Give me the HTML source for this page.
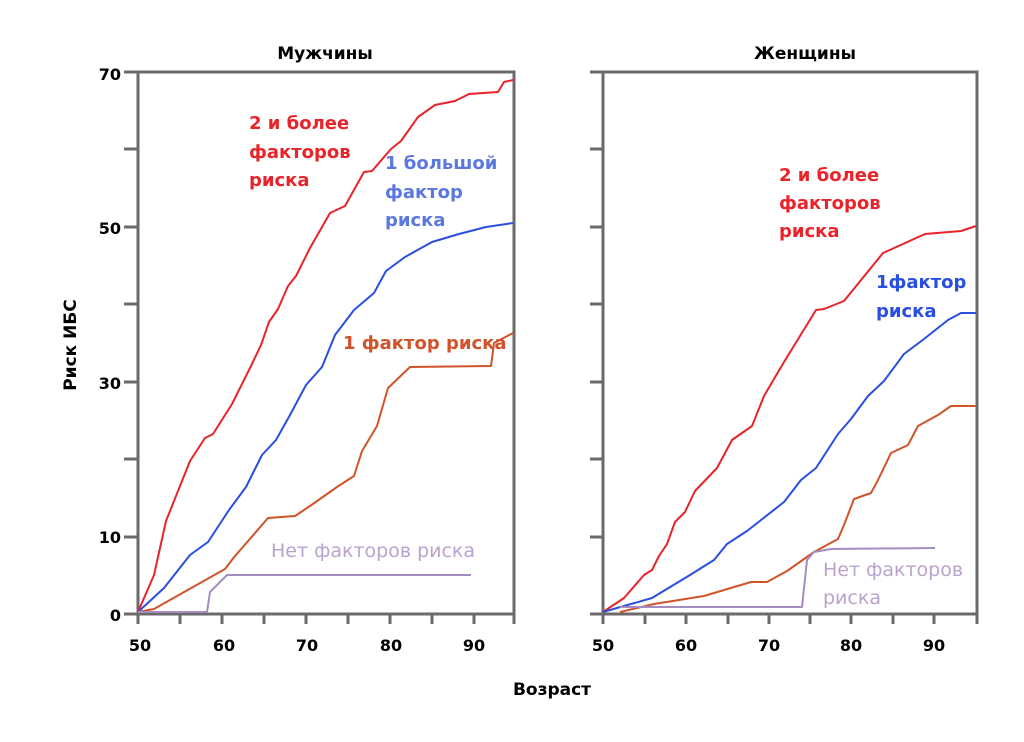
<!DOCTYPE html>
<html><head><meta charset="utf-8"><style>
html,body{margin:0;padding:0;background:#fff;}
svg{display:block;font-family:"DejaVu Sans","Liberation Sans",sans-serif;}
</style></head><body>
<svg width="1024" height="742" viewBox="0 0 1024 742" xmlns="http://www.w3.org/2000/svg">
<g fill="none" stroke="#6a6a6a" stroke-width="3">
<rect x="138" y="72" width="376" height="542"/>
<rect x="603" y="72" width="374" height="542"/>
<path d="M124 72H138M124 149H138M124 227H138M124 304H138M124 382H138M124 459H138M124 537H138M124 614H138"/>
<path d="M590 72H603M590 149H603M590 227H603M590 304H603M590 382H603M590 459H603M590 537H603M590 614H603"/>
<path d="M138 614V624M180 614V624M222 614V624M264 614V624M306 614V624M348 614V624M390 614V624M432 614V624M474 614V624M514 614V624"/>
<path d="M603 614V624M645 614V624M686 614V624M728 614V624M769 614V624M810 614V624M851 614V624M893 614V624M934 614V624M977 614V624"/>
</g>
<g fill="none" stroke-width="2" stroke-linejoin="round">
<polyline stroke="#e8232a" points="138,612 154,575 166,521 190,461 205,438 213,434 232,404 251,366 261,345 269,322 278,309 288,286 296,276 310,248 330,213 345,206 364,172 372,171 391,149 401,141 418,117 435,105 455,101 469,94 498,92 504,82 513,80"/>
<polyline stroke="#2a4ee0" points="138,612 164,588 190,555 208,542 229,510 246,487 262,455 276,440 290,415 306,385 322,367 335,335 354,310 374,293 386,271 405,257 432,242 459,234 486,227 513,223"/>
<polyline stroke="#d0532a" points="138,612 154,609 225,569 235,556 249,540 268,518 295,516 310,506 337,487 354,476 362,451 377,426 388,388 410,367 491,366 494,343 513,333"/>
<polyline stroke="#a58cc0" points="138,612 207,612 210,592 227,575 471,575"/>
<polyline stroke="#e8232a" points="603,612 624,598 644,575 652,570 659,556 667,544 675,522 685,512 695,491 717,468 732,440 752,426 764,396 784,362 816,310 824,309 844,301 883,253 925,234 961,231 976,226"/>
<polyline stroke="#2a4ee0" points="603,612 652,598 690,575 714,560 727,544 747,531 784,502 801,480 816,468 838,434 851,419 868,396 884,381 904,354 924,339 948,320 961,313 976,313"/>
<polyline stroke="#d0532a" points="620,612 654,604 704,596 751,582 767,582 787,571 814,552 838,539 844,525 854,499 871,493 878,480 891,453 908,445 918,426 938,415 951,406 976,406"/>
<polyline stroke="#a58cc0" points="620,607 802,607 807,560 814,552 831,549 935,548"/>
</g>
<g font-weight="bold" font-size="17" fill="#000" text-anchor="middle">
<text x="325" y="59">Мужчины</text>
<text x="805" y="59">Женщины</text>
<text x="552" y="695">Возраст</text>
<text transform="translate(76,345) rotate(-90)">Риск ИБС</text>
</g>
<g font-weight="bold" font-size="16" fill="#000" text-anchor="end">
<text x="121" y="80">70</text><text x="121" y="234">50</text><text x="121" y="389">30</text><text x="121" y="543">10</text><text x="121" y="621">0</text>
</g>
<g font-weight="bold" font-size="16" fill="#000" text-anchor="middle">
<text x="140" y="651">50</text><text x="224" y="651">60</text><text x="307" y="651">70</text><text x="391" y="651">80</text><text x="474" y="651">90</text>
<text x="603" y="651">50</text><text x="686" y="651">60</text><text x="769" y="651">70</text><text x="851" y="651">80</text><text x="934" y="651">90</text>
</g>
<g font-weight="bold" font-size="18">
<text fill="#e8232a" x="249" y="129">2 и более</text><text fill="#e8232a" x="249" y="158">факторов</text><text fill="#e8232a" x="249" y="186">риска</text>
<text fill="#5a78e0" x="385" y="169">1 большой</text><text fill="#5a78e0" x="385" y="198">фактор</text><text fill="#5a78e0" x="385" y="226">риска</text>
<text fill="#d0532a" x="343" y="349">1 фактор риска</text>
<text fill="#e8232a" x="779" y="181">2 и более</text><text fill="#e8232a" x="779" y="209">факторов</text><text fill="#e8232a" x="779" y="237">риска</text>
<text fill="#2a4ee0" x="876" y="288">1фактор</text><text fill="#2a4ee0" x="876" y="317">риска</text>
</g>
<g font-size="19" fill="#b9a3cc">
<text x="271" y="557">Нет факторов риска</text>
<text x="823" y="576">Нет факторов</text><text x="823" y="604">риска</text>
</g>
</svg>
</body></html>
